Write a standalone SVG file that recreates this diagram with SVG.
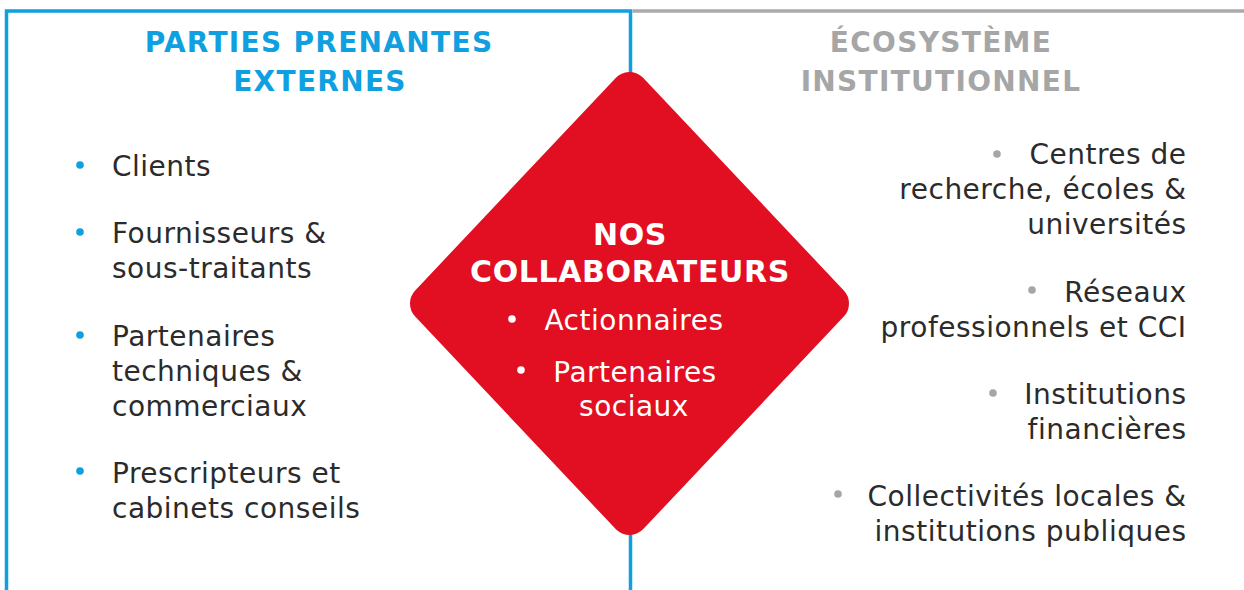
<svg xmlns="http://www.w3.org/2000/svg" width="1244" height="590" viewBox="0 0 1244 590">
<style>
.item{font-family:"DejaVu Sans",sans-serif;font-size:28px;letter-spacing:0.5px;fill:#2b2b2b}
.r{text-anchor:end}
.ttl{font-family:"DejaVu Sans",sans-serif;font-size:28px;font-weight:bold;letter-spacing:1.3px;text-anchor:middle}
.blue{fill:#0ea0e0}
.gray{fill:#a6a6a6}
.ctr{font-family:"DejaVu Sans",sans-serif;fill:#ffffff;text-anchor:middle}
</style>
<rect width="1244" height="590" fill="#ffffff"/>
<g id="frame">
<line x1="632.5" y1="11" x2="1244" y2="11" stroke="#aaaaaa" stroke-width="3.5"/>
<polyline points="6.5,590 6.5,11 630.5,11 630.5,590" fill="none" stroke="#0ea0e0" stroke-width="3.5"/>
</g>
<g id="left-panel">
<text class="ttl blue" x="319" y="52">PARTIES PRENANTES</text>
<text class="ttl blue" x="320" y="91">EXTERNES</text>
<g class="blue">
<circle cx="80" cy="165" r="3.8"/>
<circle cx="80" cy="232" r="3.8"/>
<circle cx="80" cy="335" r="3.8"/>
<circle cx="80" cy="471" r="3.8"/>
</g>
<text class="item" x="112" y="176">Clients</text>
<text class="item" x="112" y="243">Fournisseurs &amp;</text>
<text class="item" x="112" y="278">sous-traitants</text>
<text class="item" x="112" y="346">Partenaires</text>
<text class="item" x="112" y="381">techniques &amp;</text>
<text class="item" x="112" y="416">commerciaux</text>
<text class="item" x="112" y="483">Prescripteurs et</text>
<text class="item" x="112" y="518">cabinets conseils</text>
</g>
<g id="right-panel">
<text class="ttl gray" x="941" y="52">ÉCOSYSTÈME</text>
<text class="ttl gray" x="941" y="91">INSTITUTIONNEL</text>
<g class="gray">
<circle cx="997" cy="154" r="3.8"/>
<circle cx="1032" cy="290" r="3.8"/>
<circle cx="993" cy="393" r="3.8"/>
<circle cx="838" cy="494" r="3.8"/>
</g>
<text class="item r" x="1186.5" y="164">Centres de</text>
<text class="item r" x="1186.5" y="199">recherche, écoles &amp;</text>
<text class="item r" x="1186.5" y="234">universités</text>
<text class="item r" x="1186.5" y="302">Réseaux</text>
<text class="item r" x="1186.5" y="337">professionnels et CCI</text>
<text class="item r" x="1186.5" y="404">Institutions</text>
<text class="item r" x="1186.5" y="439">financières</text>
<text class="item r" x="1186.5" y="506">Collectivités locales &amp;</text>
<text class="item r" x="1186.5" y="541">institutions publiques</text>
</g>
<g id="center">
<polygon points="629.5,91 830,303.5 629.5,516 429,303.5" fill="#e20f22" stroke="#e20f22" stroke-width="38" stroke-linejoin="round"/>
<text class="ctr" x="630" y="245" font-size="30" font-weight="bold" letter-spacing="0.6">NOS</text>
<text class="ctr" x="630" y="282" font-size="30" font-weight="bold" letter-spacing="0.6">COLLABORATEURS</text>
<circle cx="512" cy="319" r="3.8" fill="#ffffff"/>
<circle cx="521" cy="370" r="3.8" fill="#ffffff"/>
<text class="ctr" x="634" y="330" font-size="28" letter-spacing="0.5">Actionnaires</text>
<text class="ctr" x="635" y="382" font-size="28" letter-spacing="0.5">Partenaires</text>
<text class="ctr" x="634" y="416" font-size="28" letter-spacing="0.5">sociaux</text>
</g>
</svg>
